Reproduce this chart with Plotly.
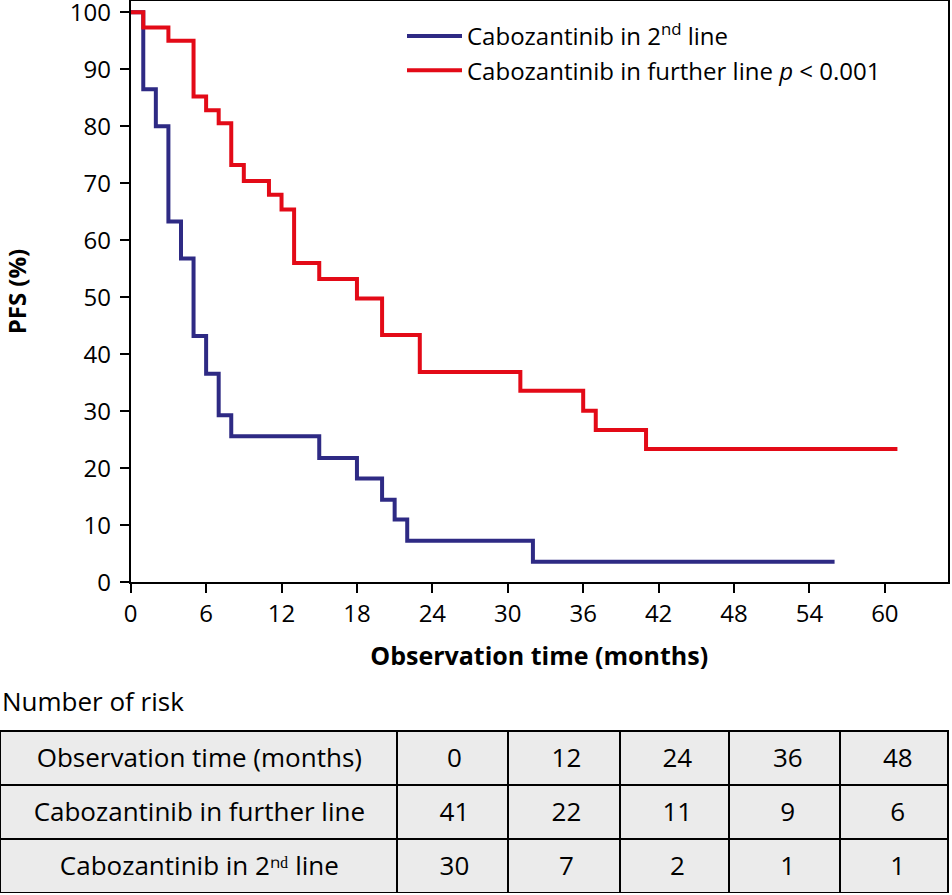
import plotly.graph_objects as go

# ---- data ----
further_t = [0, 1, 3, 5, 6, 7, 8, 9, 11, 12, 13, 15, 18, 20, 23, 31, 36, 37, 41, 61]
further_s = [100, 97.3, 95.0, 85.2, 82.8, 80.5, 73.2, 70.4, 68.0, 65.4, 56.0, 53.2, 49.8,
             43.4, 36.9, 33.6, 30.1, 26.7, 23.4, 23.4]
second_t = [0, 1, 2, 3, 4, 5, 6, 7, 8, 15, 18, 20, 21, 22, 32, 56]
second_s = [100, 86.5, 80.0, 63.3, 56.8, 43.2, 36.6, 29.3, 25.6, 21.8, 18.2, 14.5, 11.0,
            7.3, 3.6, 3.6]

x_ticks = [0, 6, 12, 18, 24, 30, 36, 42, 48, 54, 60]
y_ticks = [0, 10, 20, 30, 40, 50, 60, 70, 80, 90, 100]

risk_header = ["Observation time (months)", "0", "12", "24", "36", "48"]
risk_rows = ["Cabozantinib in further line", "Cabozantinib in 2\u207f\u1d48 line"]
risk_further = [41, 22, 11, 9, 6]
risk_second = [30, 7, 2, 1, 1]

BLUE = "#2e2a84"
RED = "#e30a17"
FONT = "Open Sans"

W, H = 952, 895
fig = go.Figure()

fig.add_trace(go.Scatter(x=second_t, y=second_s, mode="lines", line=dict(shape="hv", color=BLUE, width=4),
                         name="Cabozantinib in 2<sup>nd</sup> line"))
fig.add_trace(go.Scatter(x=further_t, y=further_s, mode="lines", line=dict(shape="hv", color=RED, width=4),
                         name="Cabozantinib in further line <i>p</i> < 0.001"))

# number-at-risk table: grid layer (no text) + text layer (nudged down to centre text in rows)
cols = [[risk_rows[0], risk_rows[1]]] + [[a, b] for a, b in zip(risk_further, risk_second)]
blank_header = ["" for _ in risk_header]
blank_cols = [["" for _ in c] for c in cols]
col_w = [397, 111, 112, 109, 111, 108]
tbl_top, tbl_bot, text_nudge = 731, 893, 8.5

fig.add_trace(go.Table(
    domain=dict(x=[0, 948 / W], y=[1 - tbl_bot / H, 1 - tbl_top / H]),
    columnwidth=col_w,
    header=dict(values=blank_header, height=54, fill_color="#ebebeb",
                line=dict(color="black", width=2), align="center",
                font=dict(family=FONT, size=26, color="black")),
    cells=dict(values=blank_cols, height=54, fill_color="#ebebeb",
               line=dict(color="black", width=2), align="center",
               font=dict(family=FONT, size=26, color="black")),
))
fig.add_trace(go.Table(
    domain=dict(x=[0, 1], y=[0, 1 - (tbl_top + text_nudge) / H]),
    columnwidth=col_w,
    header=dict(values=risk_header, height=54, fill_color="rgba(0,0,0,0)",
                line=dict(color="rgba(0,0,0,0)", width=0), align="center",
                font=dict(family=FONT, size=26, color="black")),
    cells=dict(values=cols, height=54, fill_color="rgba(0,0,0,0)",
               line=dict(color="rgba(0,0,0,0)", width=0), align="center",
               font=dict(family=FONT, size=26, color="black")),
))

x0, x1 = 130.7, 947.7
ytop, ybot = 0.8, 582.3
fig.update_layout(
    width=W, height=H,
    margin=dict(l=0, r=0, t=0, b=0, autoexpand=False),
    paper_bgcolor="white", plot_bgcolor="white",
    font=dict(family=FONT, size=24, color="black"),
    xaxis=dict(domain=[x0 / W, x1 / W], range=[0, 65], tickvals=x_ticks,
               showline=True, linecolor="black", linewidth=2, mirror=True,
               ticks="outside", ticklen=9, tickwidth=2, tickcolor="black",
               showgrid=False, zeroline=False, ticklabelstandoff=0,
               ticklabeloverflow="allow", automargin=False,
               tickfont=dict(size=24),
               title=dict(text="<b>Observation time (months)</b>", standoff=19,
                          font=dict(size=25))),
    yaxis=dict(domain=[1 - ybot / H, 1 - ytop / H], range=[0, 102], tickvals=y_ticks,
               showline=True, linecolor="black", linewidth=2, mirror=True,
               ticks="outside", ticklen=9, tickwidth=2, tickcolor="black",
               showgrid=False, zeroline=False, ticklabelstandoff=4,
               ticklabeloverflow="allow", automargin=False,
               tickfont=dict(size=24),
               title=dict(text="<b>PFS (%)</b>", standoff=58, font=dict(size=24))),
    legend=dict(x=402 / W, y=1 - 14 / H, xanchor="left", yanchor="top",
                bgcolor="rgba(0,0,0,0)", font=dict(size=24), itemwidth=55,
                tracegroupgap=0),
    annotations=[dict(text="Number of risk", x=0, y=1 - 701 / H, xref="paper", yref="paper",
                      xanchor="left", yanchor="middle", showarrow=False,
                      font=dict(size=26))],
)

fig.write_html("out.html", config={"displayModeBar": False},
               post_script="document.body.style.margin='0';document.body.style.overflow='hidden';")
